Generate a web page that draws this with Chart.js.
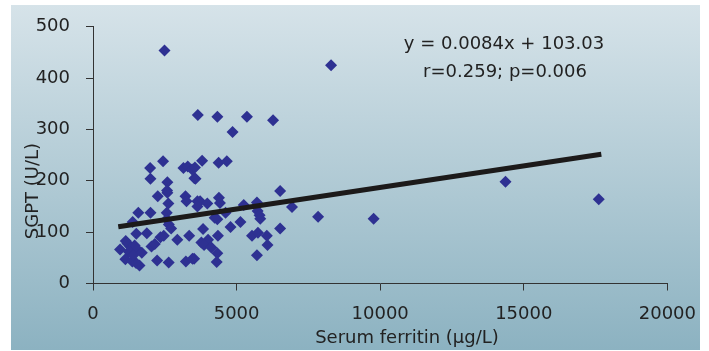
<!DOCTYPE html>
<html lang="en">
<head>
  <meta charset="UTF-8" />
  <title>SGPT vs Serum ferritin</title>
  <script src="https://cdn.jsdelivr.net/npm/chart.js"></script>
  <style>
    * { margin: 0; padding: 0; box-sizing: border-box; }
    body { background: #fff; width: 709px; height: 351px; overflow: hidden; }
    canvas { display: block; }
  </style>
</head>
<body>
  <canvas id="scatter" width="709" height="351"></canvas>

  <script>
    // serum ferritin (ug/L) and SGPT (U/L)
    const ferritin = [
      2490, 8290, 3650, 4330, 5360, 6270, 4860, 1990, 2440, 2000,
      2590, 3150, 3300, 3450, 3550, 3530, 2580, 3800, 4375, 4660,
      3570, 6515, 2590, 2255, 3220, 3256, 2624, 1578, 2003, 2567,
      1381, 2567, 2640, 2720, 1508, 1875, 2348, 2463, 2935, 2037,
      2152, 943, 1200, 1300, 1450, 1550, 1128, 1370, 1500, 1620,
      2233, 2636, 3234, 3522, 3636, 3730, 3980, 3636, 4385, 4420,
      5250, 5708, 5732, 5800, 5824, 6930, 4328, 4237, 4616, 5134,
      4789, 3833, 6515, 4351, 4006, 3774, 3867, 4120, 5536, 5743,
      6053, 6077, 4328, 4306, 5708, 9772, 7838, 14364, 17610, 3350,
      1140, 1250, 1400, 1700, 3464
    ];
    const sgpt = [
      454, 425, 328, 325, 325, 318, 295, 225, 238, 204,
      197, 225, 228, 222, 226, 205, 181, 239, 235, 238,
      204, 180, 177, 170, 170, 160, 156, 138, 138, 138,
      120, 125, 115, 107, 97, 98, 90, 93, 85, 72,
      77, 66, 78, 72, 74, 66, 47, 43, 40, 35,
      45, 41, 43, 48, 160, 160, 156, 150, 167, 157,
      153, 158, 141, 133, 126, 149, 125, 128, 138, 120,
      110, 106, 107, 93, 85, 80, 75, 70, 93, 99,
      93, 75, 59, 42, 55, 126, 130, 198, 164, 93,
      83, 62, 55, 60, 48
    ];

    // regression line y = 0.0084x + 103.03
    const slope = 0.0084;
    const intercept = 103.03;
    const trendX = [880, 17700];

    const xTicks = [0, 5000, 10000, 15000, 20000];
    const yTicks = [0, 100, 200, 300, 400, 500];

    const points = ferritin.map((x, i) => ({ x: x, y: sgpt[i] }));
    const trend = trendX.map(x => ({ x: x, y: slope * x + intercept }));

    const font = "'DejaVu Sans', Verdana, sans-serif";
    const textColor = '#222';

    const panel = {
      id: 'panel',
      beforeDraw(chart) {
        const ctx = chart.ctx;
        const g = ctx.createLinearGradient(0, 5, 0, 350);
        g.addColorStop(0, '#d6e3e9');
        g.addColorStop(1, '#8cb2c1');
        ctx.save();
        ctx.fillStyle = g;
        ctx.fillRect(11, 5, 689, 345);
        ctx.restore();
      },
      afterDraw(chart) {
        const ctx = chart.ctx;
        ctx.save();
        ctx.fillStyle = textColor;
        ctx.font = '18px ' + font;
        ctx.textAlign = 'center';
        ctx.textBaseline = 'alphabetic';
        ctx.fillText('y = 0.0084x + 103.03', 504, 49);
        ctx.fillText('r=0.259; p=0.006', 505, 77);
        ctx.fillText('Serum ferritin (\u00b5g/L)', 407, 343);
        ctx.translate(38, 191);
        ctx.rotate(-Math.PI / 2);
        ctx.fillText('SGPT (U/L)', 0, 0);
        ctx.restore();
      }
    };

    new Chart(document.getElementById('scatter').getContext('2d'), {
      type: 'scatter',
      data: {
        datasets: [
          {
            type: 'line',
            data: trend,
            borderColor: '#1c1a1a',
            borderWidth: 5,
            pointRadius: 0,
            fill: false,
            order: 0
          },
          {
            data: points,
            pointStyle: 'rectRot',
            pointRadius: 6,
            pointHoverRadius: 6,
            backgroundColor: '#2e3192',
            borderColor: '#2e3192',
            borderWidth: 0,
            order: 1
          }
        ]
      },
      options: {
        responsive: false,
        animation: false,
        events: [],
        layout: { padding: { top: 23, right: 36.7, left: 0, bottom: 0 } },
        plugins: {
          legend: { display: false },
          tooltip: { enabled: false }
        },
        scales: {
          x: {
            type: 'linear',
            min: 0,
            max: 20000,
            afterFit: s => { s.height = 67.5; },
            afterBuildTicks: s => { s.ticks = xTicks.map(v => ({ value: v })); },
            grid: { drawOnChartArea: false, tickLength: 7, color: '#333' },
            border: { color: '#333', width: 1 },
            ticks: {
              padding: 13, color: textColor, font: { family: font, size: 18 }, maxRotation: 0,
              callback: v => String(v)
            }
          },
          y: {
            min: 0,
            max: 500,
            afterFit: s => { s.width = 93; },
            afterBuildTicks: s => { s.ticks = yTicks.map(v => ({ value: v })); },
            grid: { drawOnChartArea: false, tickLength: 7, color: '#333' },
            border: { color: '#333', width: 1 },
            ticks: {
              padding: 16, color: textColor, font: { family: font, size: 18 },
              callback: v => String(v)
            }
          }
        }
      },
      plugins: [panel]
    });
  </script>
</body>
</html>
